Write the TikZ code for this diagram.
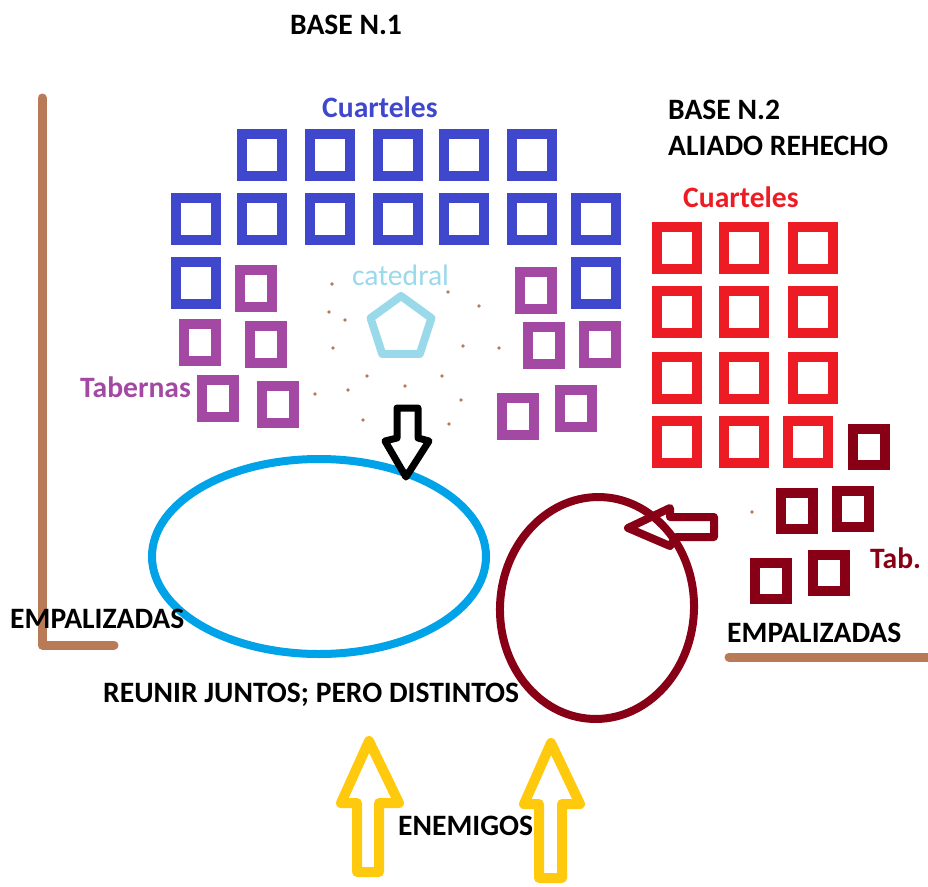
\documentclass[tikz,border=0pt]{standalone}
\usepackage{fontspec}
\setmainfont{Carlito}
\usetikzlibrary{shapes.geometric}
\definecolor{qblue}{HTML}{3F48CC}
\definecolor{qred}{HTML}{ED1C24}
\definecolor{qpurple}{HTML}{A349A4}
\definecolor{qdark}{HTML}{880015}
\definecolor{qlight}{HTML}{99D9EA}
\definecolor{qbrown}{HTML}{B97A57}
\definecolor{qcyan}{HTML}{00A2E8}
\definecolor{qyellow}{HTML}{FFC90E}
\begin{document}
\begin{tikzpicture}[x=1pt,y=-1pt,
  sq/.style={line width=10pt, inner sep=0pt, outer sep=0pt},
  bq/.style={sq, draw=qblue, minimum width=40pt, minimum height=42pt},
  rq/.style={sq, draw=qred, minimum width=40pt, minimum height=42pt},
  pq/.style={sq, draw=qpurple, minimum width=32pt, minimum height=37pt},
  dq/.style={sq, draw=qdark, minimum width=32pt, minimum height=36pt},
  lbl/.style={font=\fontsize{29.6}{32}\selectfont\bfseries, inner sep=0pt, anchor=base west},
  dot/.style={circle, fill=qbrown, inner sep=0pt, minimum size=3.6pt},
  fence/.style={draw=qbrown, line width=9pt, line cap=round, line join=round},
  blockarrow/.style={line width=#1, line join=round}
]
\useasboundingbox (0,0) rectangle (928,886);
% fences
\draw[fence] (42,98) -- (42,645) -- (114,645);
\draw[fence] (729,657) -- (930,657);
% blue barracks
\foreach \x [count=\i] in {262,330,398,464,532} \node[bq] (b1\i) at (\x,155) {};
\foreach \x [count=\i] in {196,262,330,398,464,532,596} \node[bq] (b2\i) at (\x,219) {};
\node[bq] (b31) at (196,283) {};
\node[bq] (b32) at (596,283) {};
% purple taverns
\node[pq] (p1) at (256,288.5) {};
\node[pq] (p2) at (200,342.5) {};
\node[pq] (p3) at (266,344.5) {};
\node[pq] (p4) at (218,398.5) {};
\node[pq] (p5) at (278,404.5) {};
\node[pq] (p6) at (536,290) {};
\node[pq] (p7) at (544,345.5) {};
\node[pq] (p8) at (600,344.5) {};
\node[pq] (p9) at (518,416.5) {};
\node[pq] (p10) at (576,408.5) {};
% red barracks
\foreach \y [count=\j] in {247.5,311.5,377.5} {
  \foreach \x [count=\i] in {677,744,813} \node[rq] (r\j\i) at (\x,\y) {};
}
\node[rq] (r41) at (677,441.5) {};
\node[rq] (r42) at (744,441.5) {};
\node[rq] (r43) at (808,441.5) {};
% dark red taverns
\node[dq] (d1) at (869,447) {};
\node[dq] (d2) at (797,510.5) {};
\node[dq] (d3) at (853,509) {};
\node[dq] (d4) at (771,581) {};
\node[dq] (d5) at (828.5,573) {};
% cathedral
\node[regular polygon, regular polygon sides=5, minimum size=64pt, inner sep=0pt,
      draw=qlight, line width=8pt, line join=round] (cat) at (401,328) {};
% dots
\foreach \p [count=\i] in {(332,284),(448,292),(479,306),(329,312),(345,320),(333,348),(463,346),(499,348),(367,376),(442,376),(405,386),(348,390),(315,394),(461,400),(363,420),(449,424),(752,512)}
  \node[dot] (dot\i) at \p {};
% ellipses
\node[ellipse, draw=qcyan, line width=8pt, minimum width=334pt, minimum height=195pt, inner sep=0pt] (blue) at (319,556.5) {};
\node[ellipse, draw=qdark, line width=8pt, minimum width=194pt, minimum height=222pt, inner sep=0pt, rotate=-3] (dark) at (597,608) {};
% black block arrow
\draw[blockarrow=7pt, draw=black] (397,408) -- (418,408) -- (418,438) -- (429,441) -- (406,477) -- (385,441) -- (397,438) -- cycle;
% dark red block arrow
\draw[blockarrow=8pt, draw=qdark] (628,528) -- (670,508) -- (670,517) -- (714,517) -- (714,537) -- (676,537) -- (670,546) -- cycle;
% yellow arrows
\draw[blockarrow=10pt, draw=qyellow] (369,741) -- (399,803) -- (379,803) -- (379,872) -- (357,872) -- (357,803) -- (341,803) -- cycle;
\draw[blockarrow=10pt, draw=qyellow] (551,743) -- (580,804) -- (562,804) -- (562,878) -- (539,878) -- (539,804) -- (524,804) -- cycle;
% labels
\node[lbl] (t1) at (290,34) {BASE N.1};
\node[lbl, text=qblue] (t2) at (322,117) {Cuarteles};
\node[lbl] (t3) at (668,119) {BASE N.2};
\node[lbl] (t4) at (668,155) {ALIADO REHECHO};
\node[lbl, text=qred] (t5) at (683,207) {Cuarteles};
\node[lbl, font=\fontsize{29.6}{32}\selectfont, text=qlight] (t6) at (352,285) {catedral};
\node[lbl, text=qpurple] (t7) at (80,397) {Tabernas};
\node[lbl, text=qdark] (t8) at (870,568) {Tab.};
\node[lbl] (t9) at (10,628) {EMPALIZADAS};
\node[lbl] (t10) at (727,642) {EMPALIZADAS};
\node[lbl] (t11) at (103,702) {REUNIR JUNTOS; PERO DISTINTOS};
\node[lbl] (t12) at (398,835) {ENEMIGOS};
\end{tikzpicture}
\end{document}
